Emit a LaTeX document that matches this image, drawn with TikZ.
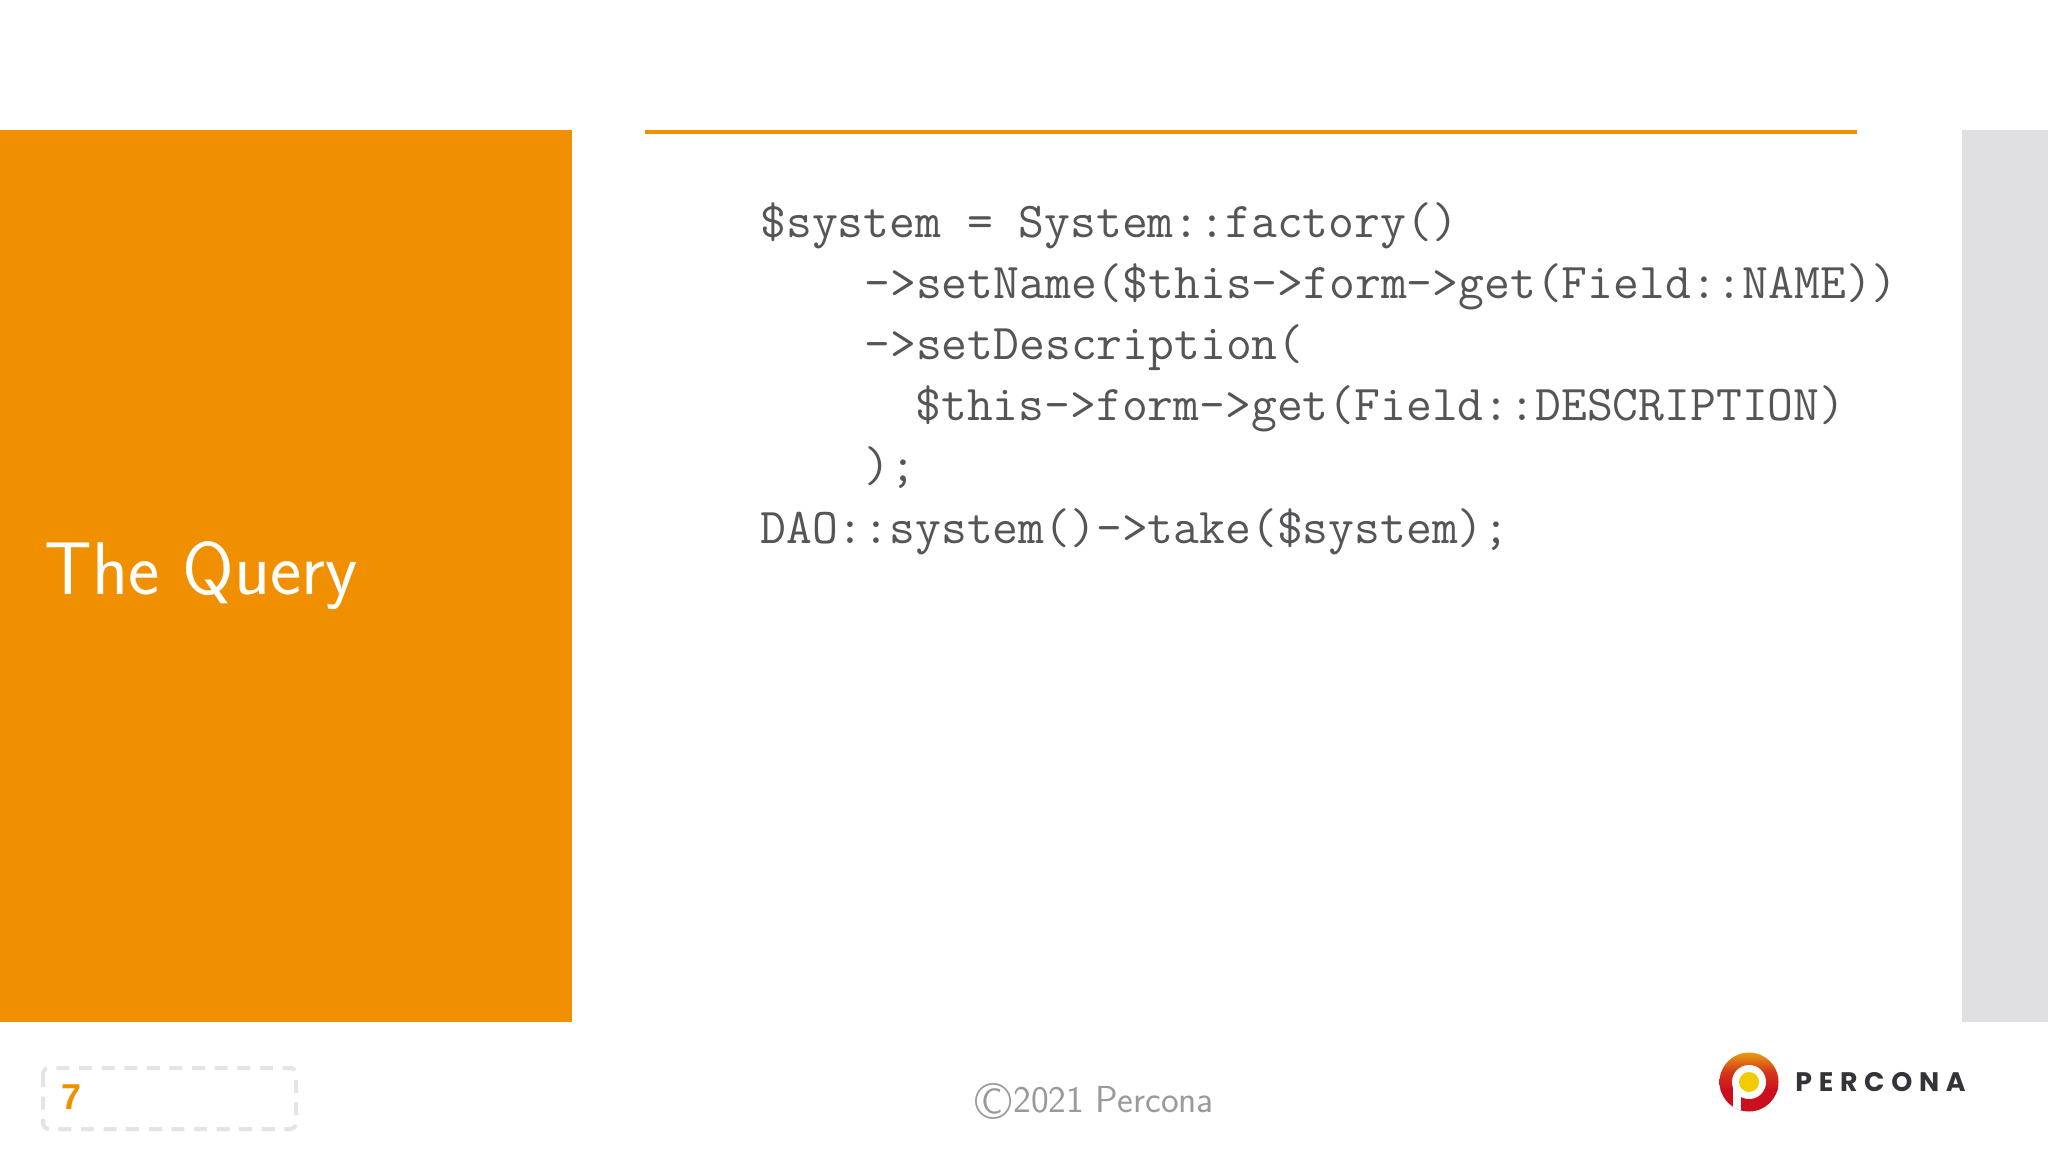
\documentclass[tikz,border=0pt]{standalone}
\usepackage{fontspec}
\newfontfamily\logofont[LetterSpace=25]{Poppins}
\newfontfamily\numfont{Liberation Sans}
\definecolor{percorange}{HTML}{F09000}
\definecolor{sidegray}{HTML}{E0E0E2}
\definecolor{codegray}{HTML}{555558}
\definecolor{footgray}{HTML}{9A9A9E}
\definecolor{dashgray}{HTML}{E4E4E4}
\definecolor{logored}{HTML}{CC0F1E}
\definecolor{logoamber}{HTML}{E8A010}
\definecolor{logoyellow}{HTML}{F0CC00}
\definecolor{logotext}{HTML}{333338}
\tikzset{
  codeline/.style={anchor=base west,inner sep=0pt,text=codegray,font=\fontsize{25.08}{30}\selectfont\ttfamily},
  titletext/.style={anchor=base west,inner sep=0pt,text=white,font=\fontsize{37.3}{44}\selectfont\sffamily},
  foottext/.style={anchor=base west,inner sep=0pt,text=footgray,font=\fontsize{18.8}{22}\selectfont\sffamily},
  pagenum/.style={anchor=base west,inner sep=0pt,text=percorange,font=\fontsize{18}{22}\selectfont\numfont\bfseries},
  logotype/.style={anchor=base west,inner sep=0pt,text=logotext,font=\fontsize{13.4}{16}\selectfont\logofont\bfseries},
}
\begin{document}
\begin{tikzpicture}[x=0.5pt,y=-0.5pt]
\useasboundingbox (0,0) rectangle (2048,1152);
\fill[white] (0,0) rectangle (2048,1152);
\fill[percorange] (0,130) rectangle (572,1022);
\fill[sidegray] (1962,130) rectangle (2048,1022);
\fill[percorange] (645,129.5) rectangle (1857,133.5);
\node[titletext] (title) at (44,594) {The Query};
\node[codeline] (c1) at (760,237) {\$system = System::factory()};
\node[codeline] (c2) at (864,298) {->setName(\$this->form->get(Field::NAME))};
\node[codeline] (c3) at (864,359) {->setDescription(};
\node[codeline] (c4) at (915,420) {\$this->form->get(Field::DESCRIPTION)};
\node[codeline] (c5) at (864,481) {);};
\node[codeline] (c6) at (760,543) {DAO::system()->take(\$system);};
\draw[dashgray,line width=2pt,dash pattern=on 6.5pt off 4.8pt,rounded corners=3pt] (43,1068) rectangle (296,1129);
\node[pagenum] (num) at (61,1109) {7};
\node[foottext] (foot) at (975,1112) {\raisebox{-3.6pt}{\fontsize{26}{26}\selectfont\textcopyright}\kern1pt 2021 Percona};
% logo
\begin{scope}
\clip (1749,1082) circle (29.5);
\shade[top color=logoamber,bottom color=logored,middle color=logored!70!logoamber] (1718,1052) rectangle (1780,1090);
\fill[logored] (1718,1089) rectangle (1780,1112);
\fill[white] (1749,1082) circle (17);
\fill[white] (1733,1082) -- (1741,1082) -- (1741,1112) -- (1733,1112) -- cycle;
\end{scope}
\fill[logoyellow] (1749,1082) circle (10);
\node[logotype] (logo) at (1795,1091) {PERCONA};
\end{tikzpicture}
\end{document}
